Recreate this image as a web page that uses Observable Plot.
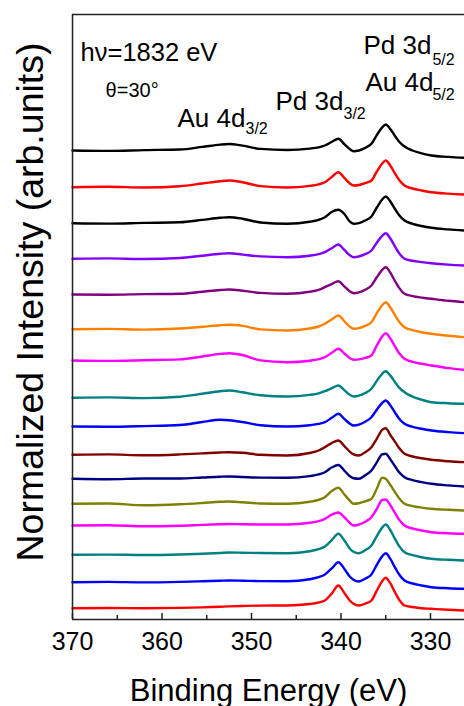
<!DOCTYPE html>
<html><head><meta charset="utf-8">
<script src="https://cdn.jsdelivr.net/npm/d3@7"></script>
<script src="https://cdn.jsdelivr.net/npm/@observablehq/plot@0.6"></script>
<style>body{margin:0;background:#fff;}</style>
</head><body><div id="chart"></div>
<script>
// Binding energies (eV) shared by every spectrum
const energies = [370, 366, 362, 358, 355.5, 353.5, 352.5, 351, 349, 346, 343.5, 342.5, 341.8, 341, 340.3, 339.6, 339, 338.6, 338, 337.3, 336.6, 336, 335.4, 335, 334.5, 334, 333.5, 332.9, 332, 331, 329.9, 328, 326.2];
// Vertical offsets of the stacked spectra (top to bottom)
const offsets = [469, 432.3, 396.3, 360.7, 325, 290.3, 259, 221.7, 193, 164.7, 140.7, 115.7, 94, 64.7, 37.3, 11.3];
const colors = ["#000000", "#ff0000", "#000000", "#8000ff", "#800080", "#ff8000", "#ff00ff", "#008080", "#0000ff", "#800000", "#000080", "#808000", "#ff00ff", "#008080", "#0000ff", "#ff0000"];
// Intensities relative to each spectrum's offset
const s1 = [0, -0.4, 0.4, 1, 3.6, 5.9, 6.5, 4.9, 1.6, 0.5, 1.9, 3.2, 5, 8.7, 11.7, 6.1, 1.2, -0.7, 0, 2.6, 6.7, 15.4, 23.1, 26, 21.6, 15, 8.8, 4, 0, -2.8, -5, -6.4, -7.3];
const s2 = [0, 0.4, -0.3, 1.0, 3.7, 6.0, 6.7, 5.0, 1.1, -0.3, 1.3, 2.9, 5, 10.5, 15, 9.0, 3.7, 1.7, 2.2, 4.0, 6.7, 15.7, 23.7, 26.7, 21.7, 14.2, 7.2, 1.7, -1.3, -3.3, -5, -6.4, -7.3];
const s3 = [0, -0.4, 0.3, 0.9, 3.3, 5.4, 6, 4.5, 0.7, -0.6, 1.4, 3.4, 6, 11.5, 13.4, 9, 1.5, -0.6, 0.1, 2.7, 6.7, 15.7, 23.7, 26.7, 21.9, 14.7, 8.0, 2.7, -0.6, -2.8, -4.6, -6.2, -7.3];
const s4 = [0, 0.4, -0.2, 0.8, 3.1, 5.0, 5.6, 4.2, 2.4, 1.6, 3.1, 4.6, 6.6, 10.8, 14.3, 8.6, 3.5, 1.6, 2.3, 4.6, 8.3, 16.1, 23.0, 25.6, 20.5, 12.8, 5.6, 0, -2.0, -3.3, -4.4, -5.8, -6.7];
const s5 = [0, -0.3, 0.4, 0.8, 2.8, 4.5, 5, 3.8, 1.6, 0.7, 2.7, 4.7, 7.3, 10.6, 13.3, 7.9, 3.1, 1.3, 2.1, 4.8, 9, 17.2, 24.6, 27.3, 22.0, 14.0, 6.6, 0.7, -1.6, -3.1, -4.3, -6.3, -7.7];
const s6 = [0, 0.3, -0.4, 0.7, 2.4, 4.0, 4.4, 3.3, -0.2, -1.3, 0.7, 2.7, 5.4, 10.0, 13.7, 7.7, 2.4, 0.4, 1.1, 3.4, 7, 16, 24, 27, 22, 14.5, 7.5, 2, -1, -3, -4.6, -6.6, -8];
const s7 = [0, -0.4, 0.3, 1.1, 4.0, 6.6, 7.3, 5.5, 0.1, -1.7, -0.2, 1.3, 3.3, 7.9, 11.7, 6.8, 2.3, 0.7, 1.1, 2.6, 5, 15, 24, 27.3, 22.2, 14.5, 7.3, 1.7, -1.3, -3.3, -5, -7.6, -9.3];
const s8 = [0, 0.4, -0.3, 1.1, 4.0, 6.6, 7.3, 5.5, 2.5, 1.3, 2.9, 4.5, 6.6, 9.7, 12.3, 7.4, 3.0, 1.3, 2.1, 4.8, 9, 16.9, 24, 26.6, 22.4, 16.1, 10.2, 5.6, 1.1, -1.9, -4.4, -5.4, -6];
const s9 = [0, -0.3, 0.4, 1.5, 4.5, 6.7, 6.3, 4.5, 1.3, 0, 1.3, 2.6, 4.3, 8.9, 12.7, 7.4, 2.8, 1, 1.8, 4.7, 9.3, 16.8, 23.5, 26, 21.3, 14.4, 7.8, 2.7, -0.3, -2.3, -4, -5.6, -6.7];
const s10 = [0, 0.4, -0.5, 0.4, 1.4, 2.3, 2.6, 2.0, 0, -0.7, 1.8, 4.3, 7.6, 12, 14.3, 8.5, 3.0, 0.5, -0.7, 2.5, 7.6, 16, 25, 26.5, 20, 13.5, 6.7, 1, -1.7, -3.5, -5, -6.4, -7.4];
const s11 = [0, -0.4, 0.3, 0.3, 1.3, 2.1, 2.3, 1.8, 1.2, 1, 2.7, 4.4, 6.6, 11.5, 13.8, 8, 2.5, 0.5, 0, 3.5, 8.3, 16.5, 24.5, 25, 19.5, 13, 6.5, 1.6, -1.4, -3.3, -5, -6.6, -7.7];
const s12 = [0, 0.3, -1.5, -0.5, 0.8, 2.0, 2.3, 1.5, 0.3, 0, 2.0, 4.0, 6.6, 13, 16, 9, 3, 0, 0.5, 2.5, 5, 15, 26, 25, 19, 12, 5.5, 0, -2.3, -3.8, -5, -6, -6.7];
const s13 = [0, 0.3, -0.8, -0.3, 0.6, 1.2, 1.5, 1.2, 1, 1, 2.7, 4.4, 6.7, 11, 13, 8, 2.5, 0, 0.8, 3.7, 8.3, 16.5, 25.5, 26, 20.5, 13, 5.8, 0, -3, -5, -6.7, -7.7, -8.3];
const s14 = [0, 0.2, -0.2, 0.3, 1.0, 1.8, 2.3, 2.1, 1.8, 1.6, 3.6, 5.6, 8.3, 15, 21, 14, 6, 3, 1.6, 4.5, 9.3, 18.7, 27.2, 30.3, 24.8, 16.5, 8.7, 2.6, -0.4, -2.4, -4, -5, -5.7];
const s15 = [0, 0.3, -0.2, 0.3, 0.9, 1.5, 1.7, 1.5, 1.1, 1, 3, 5, 7.7, 14, 20, 13, 5.5, 2.5, 0.7, 3.5, 7.7, 17.3, 25.8, 29, 23.5, 15.3, 7.7, 1.7, -1.3, -3.3, -5, -6, -6.6];
const s16 = [0, 0.2, 0, 0.3, 0.8, 1.5, 1.8, 2.2, 2.6, 2.7, 4.2, 5.7, 7.7, 15, 22.7, 15, 7.5, 4.5, 2.7, 4.5, 7.7, 17.5, 27, 30.4, 25, 16.5, 8.5, 2.7, 1.2, 0, -0.6, -1.6, -2.3];
const spectra = [s1, s2, s3, s4, s5, s6, s7, s8, s9, s10, s11, s12, s13, s14, s15, s16];
const majorTicks = [370, 360, 350, 340, 330];
const minorTicks = [365, 355, 345, 335];

const rows = [];
spectra.forEach((vals, i) => vals.forEach((v, j) => rows.push({E: energies[j], I: offsets[i] + v, id: i})));

const font = "'Liberation Sans', Arial, Helvetica, sans-serif";
const axisColor = "#222";
const plot = Plot.plot({
  width: 464, height: 706,
  marginLeft: 72, marginRight: 0, marginTop: 14, marginBottom: 87,
  style: {fontFamily: font, background: "#fff", color: "#000", overflow: "visible"},
  x: {domain: [370, 326.2], label: null},
  y: {domain: [0, 605], axis: null},
  color: {type: "ordinal", domain: d3.range(16), range: colors},
  marks: [
    Plot.line(rows, {x: "E", y: "I", z: "id", stroke: "id", strokeWidth: 2.4, curve: "monotone-x"}),
    Plot.ruleX([370], {stroke: axisColor, strokeWidth: 1.5}),
    Plot.ruleY([605], {stroke: axisColor, strokeWidth: 1.5}),
    Plot.ruleY([0], {stroke: axisColor, strokeWidth: 1.5}),
    Plot.axisX(majorTicks, {tickSize: -6, tickFormat: () => "", label: null, stroke: axisColor, strokeWidth: 1.5}),
    Plot.axisX(minorTicks, {tickSize: -4, tickFormat: () => "", label: null, stroke: axisColor, strokeWidth: 1.5}),
    Plot.axisX(majorTicks, {tickSize: 0, tickPadding: 13, fontSize: 25, label: null, tickFormat: d => String(d), fill: "#000"}),
    Plot.text(["Binding Energy (eV)"], {frameAnchor: "bottom", dy: 81, lineAnchor: "bottom", textAnchor: "middle", fontSize: 31, fill: "#000"}),
    Plot.text(["Normalized Intensity (arb.units)"], {frameAnchor: "left", rotate: -90, dx: -30, dy: -15, lineAnchor: "bottom", textAnchor: "middle", fontSize: 37.5, fill: "#000"}),
    Plot.text(["hν=1832 eV"], {x: 369.1, y: 559, textAnchor: "start", lineAnchor: "bottom", fontSize: 25.5, fill: "#000"}),
    Plot.text(["θ=30°"], {x: 366.3, y: 522.3, textAnchor: "start", lineAnchor: "bottom", fontSize: 20, fill: "#000"}),
    Plot.text(["Au 4d"], {x: 358.27, y: 492.3, textAnchor: "start", lineAnchor: "bottom", fontSize: 26, fill: "#000"}),
    Plot.text(["3/2"], {x: 350.67, y: 485.7, textAnchor: "start", lineAnchor: "bottom", fontSize: 16, fill: "#000"}),
    Plot.text(["Pd 3d"], {x: 347.32, y: 510, textAnchor: "start", lineAnchor: "bottom", fontSize: 26, fill: "#000"}),
    Plot.text(["3/2"], {x: 339.72, y: 501, textAnchor: "start", lineAnchor: "bottom", fontSize: 16, fill: "#000"}),
    Plot.text(["Pd 3d"], {x: 337.49, y: 565.7, textAnchor: "start", lineAnchor: "bottom", fontSize: 26, fill: "#000"}),
    Plot.text(["5/2"], {x: 329.78, y: 555, textAnchor: "start", lineAnchor: "bottom", fontSize: 16, fill: "#000"}),
    Plot.text(["Au 4d"], {x: 337.26, y: 529, textAnchor: "start", lineAnchor: "bottom", fontSize: 26, fill: "#000"}),
    Plot.text(["5/2"], {x: 329.78, y: 520, textAnchor: "start", lineAnchor: "bottom", fontSize: 16, fill: "#000"})
  ]
});
document.getElementById("chart").append(plot);
</script>
</body></html>
